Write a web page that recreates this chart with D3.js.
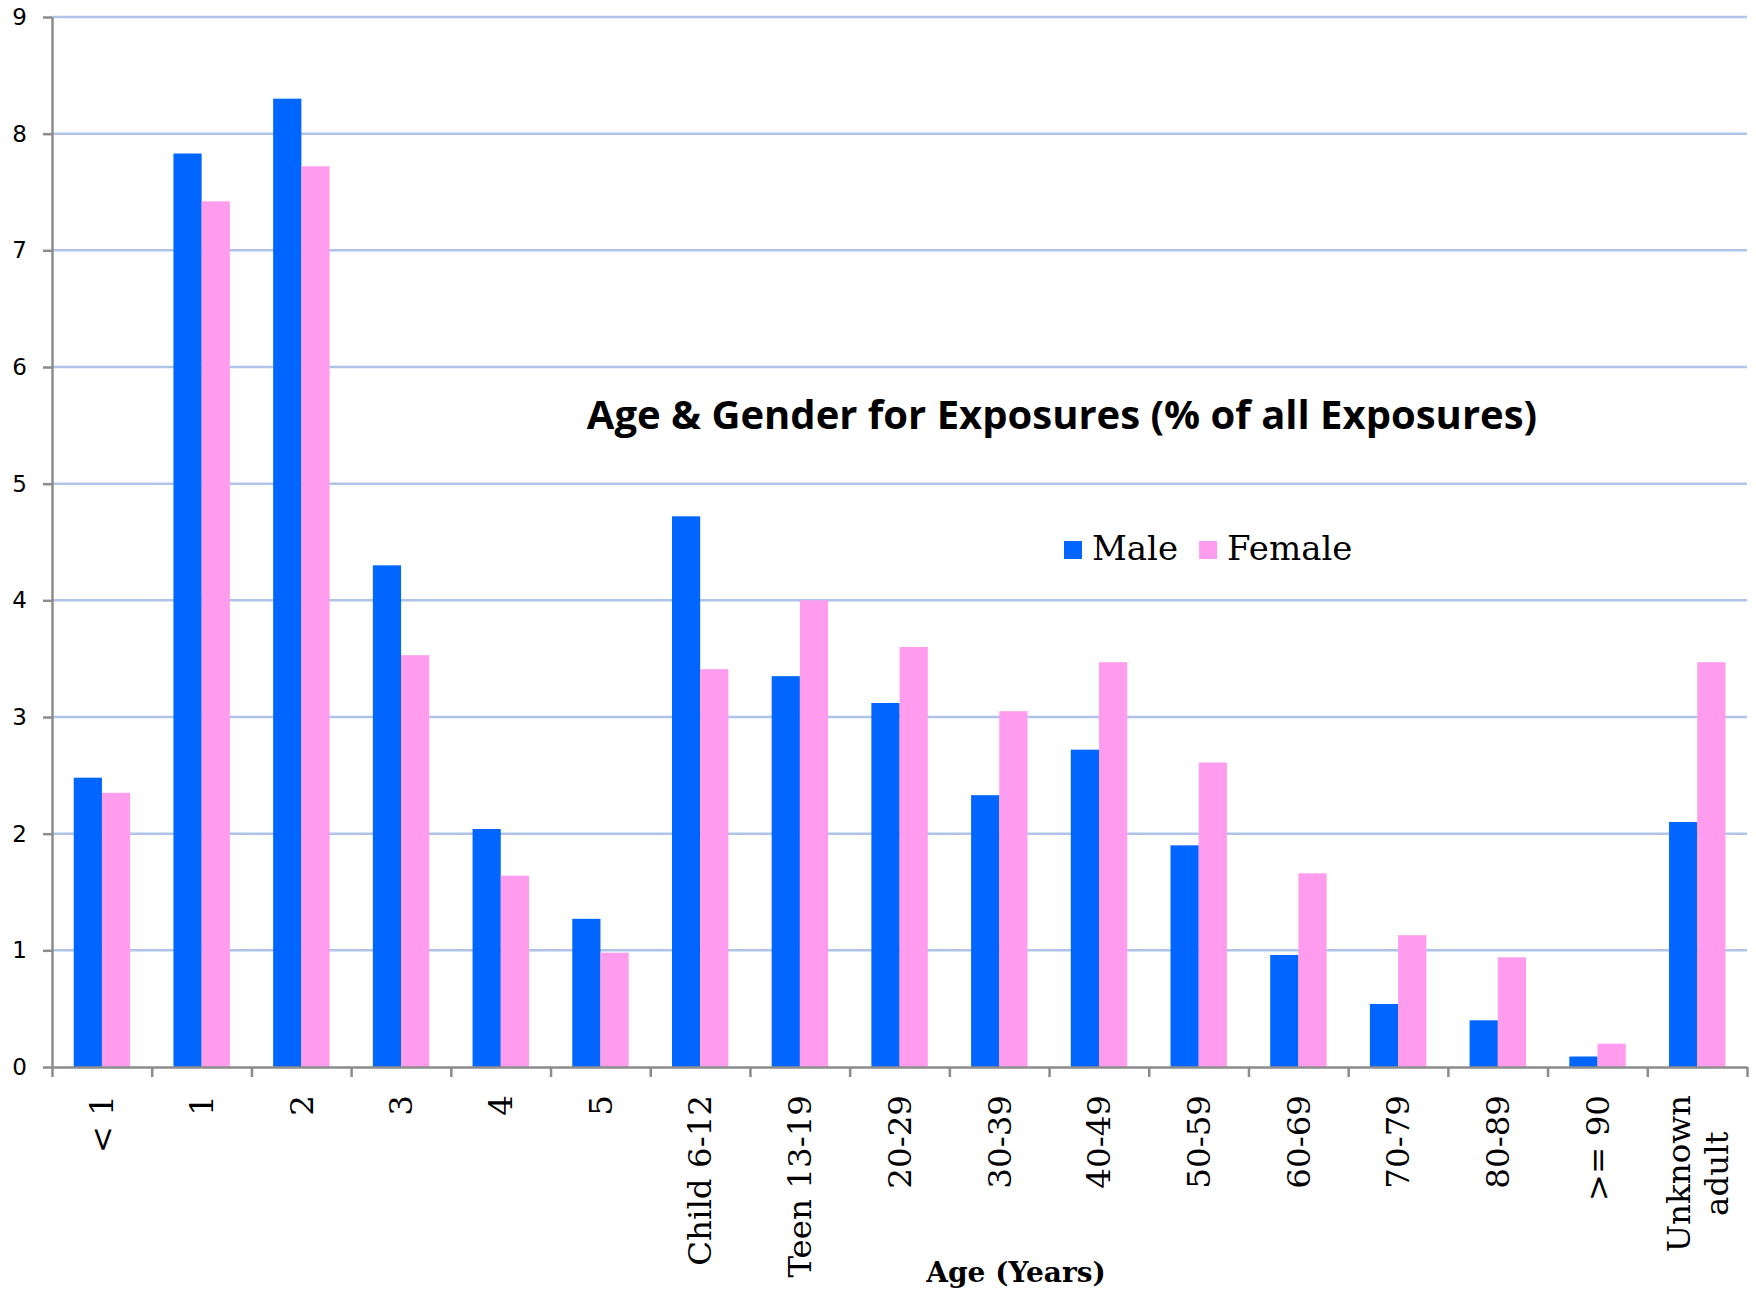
<!DOCTYPE html>
<html lang="en">
<head>
    <meta charset="UTF-8">
    <title>Age & Gender for Exposures</title>
    <script src="https://d3js.org/d3.v7.min.js"></script>
    <style>
        body {
            margin: 0;
            background: #fff;
        }
        svg {
            display: block;
        }
    </style>
</head>
<body>
    <script>
        // age groups (a "\n" breaks the tick label into lines)
        const categories = ["< 1", "1", "2", "3", "4", "5", "Child 6-12", "Teen 13-19",
            "20-29", "30-39", "40-49", "50-59", "60-69", "70-79", "80-89", ">= 90", "Unknown\nadult"];
        const series = ["Male", "Female"];
        const male = [2.48, 7.83, 8.30, 4.30, 2.04, 1.27, 4.72, 3.35, 3.12, 2.33, 2.72, 1.90, 0.96, 0.54, 0.40, 0.09, 2.10];
        const female = [2.35, 7.42, 7.72, 3.53, 1.64, 0.98, 3.41, 4.00, 3.60, 3.05, 3.47, 2.61, 1.66, 1.13, 0.94, 0.20, 3.47];
        const yTicks = [0, 1, 2, 3, 4, 5, 6, 7, 8, 9];
        const colors = ["#0066ff", "#ff9cee"];

        const width = 1756, height = 1294;
        const plotLeft = 52, plotRight = 1747, plotTop = 17, plotBottom = 1067;

        const svg = d3.select("body").append("svg")
            .attr("width", width)
            .attr("height", height);

        const x = d3.scaleBand().domain(categories).range([plotLeft, plotRight]).padding(0);
        const bw = x.bandwidth();
        const xSub = d3.scaleBand().domain(series).range([bw * 0.218, bw * 0.784]).padding(0);
        const y = d3.scaleLinear().domain([0, 9]).range([plotBottom, plotTop]);

        // gridlines
        svg.append("g")
            .selectAll("line")
            .data(yTicks.filter(d => d > 0))
            .enter().append("line")
            .attr("x1", plotLeft).attr("x2", plotRight)
            .attr("y1", d => y(d)).attr("y2", d => y(d))
            .style("stroke", "#b0c4ea")
            .style("stroke-width", 2.5);

        // bars
        const rows = categories.map((c, i) => ({ cat: c, values: [male[i], female[i]] }));
        svg.append("g")
            .selectAll("g")
            .data(rows)
            .enter().append("g")
            .attr("transform", d => `translate(${x(d.cat)},0)`)
            .selectAll("rect")
            .data(d => d.values.map((v, j) => ({ key: series[j], v: v, j: j })))
            .enter().append("rect")
            .attr("x", d => xSub(d.key))
            .attr("width", xSub.bandwidth())
            .attr("y", d => y(d.v))
            .attr("height", d => y(0) - y(d.v))
            .style("fill", d => colors[d.j]);

        // y axis
        const yAxis = svg.append("g")
            .attr("transform", `translate(${plotLeft},0)`)
            .call(d3.axisLeft(y).tickValues(yTicks).tickSize(9).tickSizeOuter(0).tickFormat(d3.format("d")));
        yAxis.selectAll("path, line").style("stroke", "#8c8c8c").style("stroke-width", 2.5);
        yAxis.selectAll("text")
            .attr("x", -25)
            .style("font-family", "'DejaVu Sans', Verdana, sans-serif")
            .style("font-size", "23px")
            .style("fill", "#000");

        // x axis: ticks on category boundaries
        const xEdge = d3.scaleLinear().domain([0, categories.length]).range([plotLeft, plotRight]);
        const xAxis = svg.append("g")
            .attr("transform", `translate(0,${plotBottom})`)
            .call(d3.axisBottom(xEdge).tickValues(d3.range(categories.length + 1)).tickSize(10).tickSizeOuter(0).tickFormat(""));
        xAxis.selectAll("path, line").style("stroke", "#8c8c8c").style("stroke-width", 2.5);

        // rotated category labels
        const labelTop = 1095;
        const lineGap = 38;
        const lab = svg.append("g")
            .selectAll("g")
            .data(categories)
            .enter().append("g")
            .attr("transform", d => `translate(${x(d) + bw / 2},${labelTop}) rotate(-90)`);
        lab.each(function (d) {
            const g = d3.select(this);
            const lines = d.split("\n");
            const texts = lines.map((t, i) => g.append("text")
                .attr("text-anchor", "middle")
                .attr("y", (i - (lines.length - 1) / 2) * lineGap)
                .attr("dy", "0.35em")
                .style("font-family", "'DejaVu Serif', serif")
                .style("font-size", "32.5px")
                .text(t));
            const maxLen = d3.max(texts, t => t.node().getComputedTextLength());
            texts.forEach(t => t.attr("x", -maxLen / 2));
        });

        // x axis title
        svg.append("text")
            .attr("x", 1016)
            .attr("y", 1282)
            .attr("text-anchor", "middle")
            .style("font-family", "'DejaVu Serif', serif")
            .style("font-weight", "bold")
            .style("font-size", "28px")
            .text("Age (Years)");

        // chart title
        svg.append("text")
            .attr("x", 1062)
            .attr("y", 429)
            .attr("text-anchor", "middle")
            .style("font-family", "'Open Sans', sans-serif")
            .style("font-weight", "bold")
            .style("font-size", "40px")
            .text("Age & Gender for Exposures (% of all Exposures)");

        // legend
        const legend = svg.append("g").attr("transform", "translate(1064,560)");
        let lx = 0;
        series.forEach((s, i) => {
            legend.append("rect")
                .attr("x", lx).attr("y", -19)
                .attr("width", 18).attr("height", 18)
                .style("fill", colors[i]);
            const t = legend.append("text")
                .attr("x", lx + 28)
                .style("font-family", "'DejaVu Serif', serif")
                .style("font-size", "34px")
                .text(s);
            lx += 28 + t.node().getComputedTextLength() + 21;
        });
    </script>
</body>
</html>
